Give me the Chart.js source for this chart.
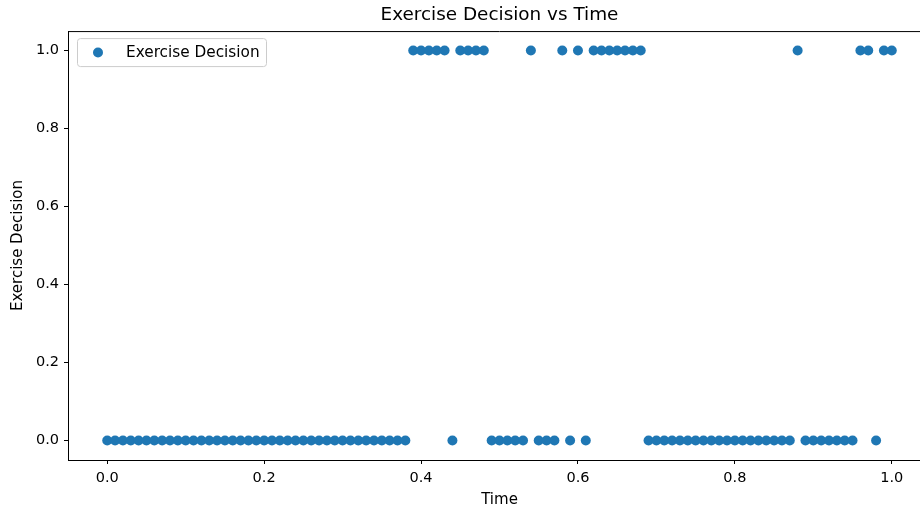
<!DOCTYPE html>
<html>
<head>
<meta charset="utf-8">
<script src="https://cdn.jsdelivr.net/npm/chart.js@4.4.0/dist/chart.umd.min.js"></script>
<style>
  html, body { margin: 0; padding: 0; background: #ffffff; overflow: hidden; }
  canvas { display: block; }
</style>
</head>
<body>
<canvas id="decisionChart" width="940" height="510"></canvas>
<script>
// ==========================================
// DATA
// ==========================================

const times = [
    0.00, 0.01, 0.02, 0.03, 0.04, 0.05, 0.06, 0.07, 0.08, 0.09,
    0.10, 0.11, 0.12, 0.13, 0.14, 0.15, 0.16, 0.17, 0.18, 0.19,
    0.20, 0.21, 0.22, 0.23, 0.24, 0.25, 0.26, 0.27, 0.28, 0.29,
    0.30, 0.31, 0.32, 0.33, 0.34, 0.35, 0.36, 0.37, 0.38, 0.39,
    0.40, 0.41, 0.42, 0.43, 0.44, 0.45, 0.46, 0.47, 0.48, 0.49,
    0.50, 0.51, 0.52, 0.53, 0.54, 0.55, 0.56, 0.57, 0.58, 0.59,
    0.60, 0.61, 0.62, 0.63, 0.64, 0.65, 0.66, 0.67, 0.68, 0.69,
    0.70, 0.71, 0.72, 0.73, 0.74, 0.75, 0.76, 0.77, 0.78, 0.79,
    0.80, 0.81, 0.82, 0.83, 0.84, 0.85, 0.86, 0.87, 0.88, 0.89,
    0.90, 0.91, 0.92, 0.93, 0.94, 0.95, 0.96, 0.97, 0.98, 0.99,
    1.00
];

const decisions = [
    0, 0, 0, 0, 0, 0, 0, 0, 0, 0,
    0, 0, 0, 0, 0, 0, 0, 0, 0, 0,
    0, 0, 0, 0, 0, 0, 0, 0, 0, 0,
    0, 0, 0, 0, 0, 0, 0, 0, 0, 1,
    1, 1, 1, 1, 0, 1, 1, 1, 1, 0,
    0, 0, 0, 0, 1, 0, 0, 0, 1, 0,
    1, 0, 1, 1, 1, 1, 1, 1, 1, 0,
    0, 0, 0, 0, 0, 0, 0, 0, 0, 0,
    0, 0, 0, 0, 0, 0, 0, 0, 1, 0,
    0, 0, 0, 0, 0, 0, 1, 1, 0, 1,
    1
];

const xTicks = [0, 0.2, 0.4, 0.6, 0.8, 1.0];
const yTicks = [0, 0.2, 0.4, 0.6, 0.8, 1.0];

const FONT = "'DejaVu Sans', sans-serif";
const BLUE = "#1f77b4";

// ==========================================
// LEGEND INSIDE AXES + TOP SPINE
// ==========================================

const innerLegend = {
    id: "innerLegend",
    afterDraw(chart) {
        const ctx = chart.ctx;
        const area = chart.chartArea;

        // top spine
        ctx.save();
        ctx.strokeStyle = "#000000";
        ctx.lineWidth = 1;
        ctx.beginPath();
        ctx.moveTo(area.left, area.top + 0.5);
        ctx.lineTo(area.right, area.top + 0.5);
        ctx.stroke();

        // legend box
        const x = area.left + 9;
        const y = area.top + 7;
        const w = 189;
        const h = 28;
        ctx.fillStyle = "rgba(255,255,255,0.8)";
        ctx.strokeStyle = "#cccccc";
        ctx.beginPath();
        ctx.roundRect(x + 0.5, y + 0.5, w, h, 3);
        ctx.fill();
        ctx.stroke();

        ctx.fillStyle = BLUE;
        ctx.beginPath();
        ctx.arc(x + 21, y + 14.5, 5, 0, Math.PI * 2);
        ctx.fill();

        ctx.fillStyle = "#000000";
        ctx.font = "15.3px " + FONT;
        ctx.textBaseline = "middle";
        ctx.textAlign = "left";
        ctx.fillText(chart.data.datasets[0].label, x + 49, y + 15);
        ctx.restore();
    }
};

// ==========================================
// SCATTER CHART
// ==========================================

const decisionCtx = document.getElementById("decisionChart");

new Chart(decisionCtx, {

    type: "scatter",

    data: {
        datasets: [{
            label: "Exercise Decision",
            data: times.map((t, i) => ({ x: t, y: decisions[i] })),
            backgroundColor: BLUE,
            borderColor: BLUE,
            borderWidth: 0,
            pointRadius: 5,
            pointHoverRadius: 5
        }]
    },

    options: {
        responsive: false,
        animation: false,
        layout: {
            padding: { left: 0, right: 9, top: 0, bottom: 0 }
        },
        plugins: {
            legend: { display: false },
            tooltip: { enabled: false },
            title: {
                display: true,
                fullSize: false,
                text: "Exercise Decision vs Time",
                color: "#000000",
                font: { family: FONT, size: 18.4, weight: "normal" },
                padding: { top: 4, bottom: 5 }
            }
        },
        scales: {
            x: {
                type: "linear",
                min: -0.05,
                max: 1.05,
                afterBuildTicks: axis => { axis.ticks = xTicks.map(v => ({ value: v })); },
                afterFit: axis => { axis.height = 50; },
                ticks: {
                    color: "#000000",
                    font: { family: FONT, size: 14.5 },
                    padding: 6,
                    maxRotation: 0,
                    autoSkip: false,
                    callback: v => Number(v).toFixed(1)
                },
                grid: {
                    drawOnChartArea: false,
                    drawTicks: true,
                    tickLength: 4,
                    color: "#000000"
                },
                border: { display: true, color: "#000000", width: 1 },
                title: {
                    display: true,
                    text: "Time",
                    color: "#000000",
                    font: { family: FONT, size: 15 },
                    padding: { top: 0, bottom: 1 }
                }
            },
            y: {
                type: "linear",
                min: -0.05,
                max: 1.05,
                afterBuildTicks: axis => { axis.ticks = yTicks.map(v => ({ value: v })); },
                afterFit: axis => { axis.width = 68; },
                ticks: {
                    color: "#000000",
                    font: { family: FONT, size: 14.5 },
                    padding: 5,
                    autoSkip: false,
                    callback: v => Number(v).toFixed(1)
                },
                grid: {
                    drawOnChartArea: false,
                    drawTicks: true,
                    tickLength: 4,
                    color: "#000000"
                },
                border: { display: true, color: "#000000", width: 1 },
                title: {
                    display: true,
                    text: "Exercise Decision",
                    color: "#000000",
                    font: { family: FONT, size: 15 },
                    padding: { top: 9, bottom: 0 }
                }
            }
        }
    },

    plugins: [innerLegend]

});
</script>
</body>
</html>
